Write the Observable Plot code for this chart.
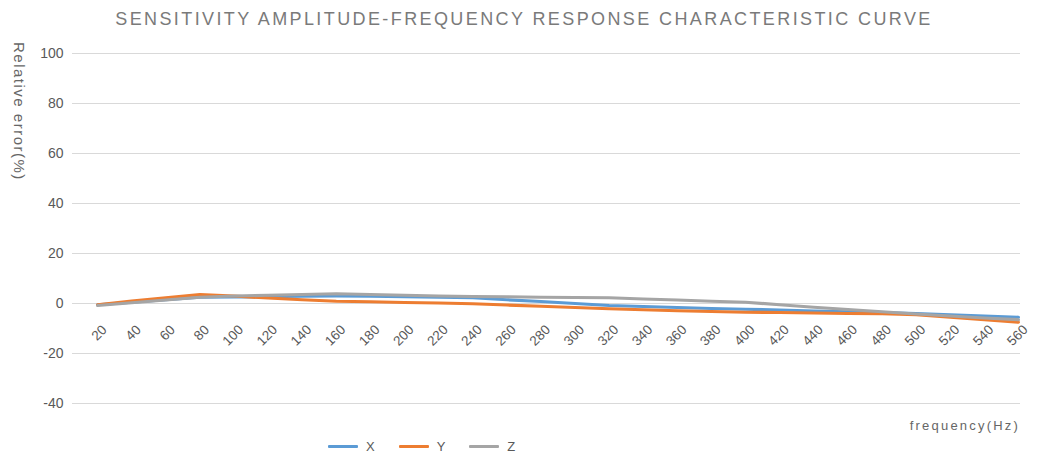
<!DOCTYPE html>
<html>
<head>
<meta charset="utf-8">
<script src="https://cdn.jsdelivr.net/npm/d3@7"></script>
<script src="https://cdn.jsdelivr.net/npm/@observablehq/plot@0.6"></script>
<style>
  html, body { margin: 0; padding: 0; background: #fff; }
  #wrap { position: relative; width: 1038px; height: 457px; font-family: "Liberation Sans", Arial, sans-serif; overflow: hidden; }
  #title { position: absolute; left: 0; width: 1048px; top: 9px; text-align: center; font-size: 18px; color: #7a7a7a; letter-spacing: 2.4px; white-space: nowrap; }
  #ylabel { position: absolute; left: 11px; top: 42px; writing-mode: vertical-rl; font-size: 15px; color: #666; letter-spacing: 1.5px; white-space: nowrap; }
  #xlabel { position: absolute; right: 18px; top: 418px; font-size: 13px; color: #666; letter-spacing: 2.2px; white-space: nowrap; }
  #legend { position: absolute; left: 328px; top: 439px; display: flex; align-items: center; font-size: 13px; color: #595959; }
  .item { display: flex; align-items: center; margin-right: 24px; }
  .sw { width: 30px; height: 3px; margin-right: 8px; border-radius: 1px; }
  #chart { position: absolute; left: 0; top: 0; }
</style>
</head>
<body>
<div id="wrap">
  <div id="chart"></div>
  <div id="title"></div>
  <div id="ylabel"></div>
  <div id="xlabel"></div>
  <div id="legend"></div>
</div>
<script>
const title = "SENSITIVITY AMPLITUDE-FREQUENCY RESPONSE CHARACTERISTIC CURVE";
const yLabel = "Relative error(%)";
const xLabel = "frequency(Hz)";
const frequencies = [20,40,60,80,100,120,140,160,180,200,220,240,260,280,300,320,340,360,380,400,420,440,460,480,500,520,540,560];
const seriesNames = ["X", "Y", "Z"];
const seriesColors = ["#5b9bd5", "#ed7d31", "#a5a5a5"];
const xValues = [-0.5,0.5,1.5,2.5,2.6,2.7,2.9,3.0,2.9,2.7,2.5,2.3,1.5,0.8,0.0,-0.8,-1.2,-1.6,-2.0,-2.3,-2.6,-3.0,-3.3,-3.6,-4.0,-4.5,-5.0,-5.5];
const yValues = [-0.5,1.0,2.3,3.6,3.0,2.2,1.5,0.9,0.7,0.4,0.2,-0.1,-0.6,-1.1,-1.6,-2.1,-2.5,-2.9,-3.2,-3.5,-3.6,-3.8,-4.0,-4.1,-4.5,-5.5,-6.5,-7.5];
const zValues = [-0.8,0.3,1.4,2.5,3.0,3.3,3.6,3.9,3.6,3.3,3.0,2.8,2.7,2.5,2.4,2.3,1.8,1.4,0.9,0.5,-0.5,-1.5,-2.4,-3.3,-4.2,-5.0,-5.8,-6.5];
const yTicks = [-40,-20,0,20,40,60,80,100];

const seriesValues = [xValues, yValues, zValues];
const data = [];
seriesNames.forEach((name, i) => {
  frequencies.forEach((f, j) => data.push({series: name, freq: f, value: seriesValues[i][j]}));
});

document.getElementById("title").textContent = title;
document.getElementById("ylabel").textContent = yLabel;
document.getElementById("xlabel").textContent = xLabel;
const legend = document.getElementById("legend");
seriesNames.forEach((n, i) => {
  const it = document.createElement("div"); it.className = "item";
  const sw = document.createElement("div"); sw.className = "sw"; sw.style.background = seriesColors[i];
  const lb = document.createElement("span"); lb.textContent = n;
  it.appendChild(sw); it.appendChild(lb); legend.appendChild(it);
});

const chart = Plot.plot({
  width: 1038,
  height: 457,
  marginLeft: 72,
  marginRight: 18,
  marginTop: 53,
  marginBottom: 54,
  style: {fontFamily: "Liberation Sans, Arial, sans-serif", background: "transparent"},
  x: {type: "linear", domain: [5.3, 561.2], axis: null},
  y: {domain: [-40, 100], ticks: yTicks, label: null, tickSize: 0, tickPadding: 9},
  color: {domain: seriesNames, range: seriesColors},
  marks: [
    Plot.gridY(yTicks, {stroke: "#d9d9d9", strokeOpacity: 1, strokeWidth: 1}),
    Plot.axisY(yTicks, {tickSize: 0, tickPadding: 9, fontSize: 14, fill: "#595959", label: null, tickFormat: d => String(d), style: {letterSpacing: "1.5px"}}),
    Plot.line(data, {x: "freq", y: "value", z: "series", stroke: "series", strokeWidth: 3.2, strokeLinejoin: "round", strokeLinecap: "round"}),
    Plot.text(frequencies, {x: d => d, y: 0, text: d => String(d), rotate: -45, textAnchor: "end", dx: 7, dy: 24, fontSize: 13.5, fill: "#595959", style: {letterSpacing: "1.2px"}})
  ]
});
document.getElementById("chart").appendChild(chart);
</script>
</body>
</html>
